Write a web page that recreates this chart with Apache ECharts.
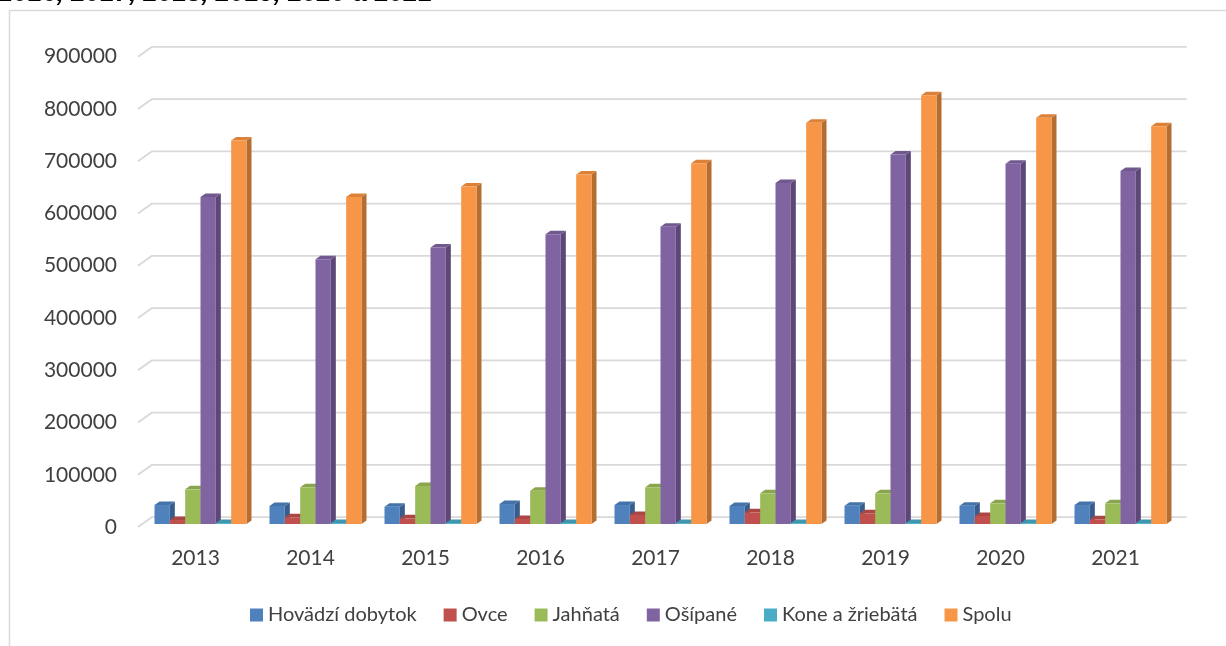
<!DOCTYPE html>
<html>
<head>
<meta charset="utf-8">
<script src="https://cdn.jsdelivr.net/npm/echarts@6/dist/echarts.min.js"></script>
<style>
html,body{margin:0;padding:0;background:#fff;}
#c{width:1226px;height:646px;}
</style>
</head>
<body>
<div id="c"></div>
<script>
const categories = ['2013','2014','2015','2016','2017','2018','2019','2020','2021'];
const seriesNames = ['Hovädzí dobytok','Ovce','Jahňatá','Ošípané','Kone a žriebätá','Spolu'];
const hovadziDobytok = [36300, 34400, 33000, 38200, 36300, 34400, 35000, 35000, 36300];
const ovce = [7600, 12800, 10900, 9600, 17200, 22400, 20500, 15300, 9000];
const jahnata = [66300, 70200, 72700, 63700, 70200, 58700, 58700, 39600, 39600];
const osipane = [625800, 506700, 529000, 554500, 569000, 652600, 706900, 689600, 675500];
const koneZriebata = [1800, 1800, 1800, 1800, 1800, 1800, 1800, 1800, 1800];
const spolu = [734000, 625800, 646000, 669000, 690200, 768000, 820300, 777600, 761000];
const yTicks = [0, 100000, 200000, 300000, 400000, 500000, 600000, 700000, 800000, 900000];
const titleText = '2016, 2017, 2018, 2019, 2020 a 2021';

const seriesValues = [hovadziDobytok, ovce, jahnata, osipane, koneZriebata, spolu];
const frontColors = ['#4F81BD','#C0504D','#9BBB59','#8064A2','#4BACC6','#F79646'];
const sideColors  = ['#385D8A','#8C3836','#71893F','#5C4776','#31859C','#B66D31'];
const topColors   = ['#4473AA','#AA4643','#89A54E','#71588F','#3E97AF','#DC8137'];

const DEPTH_X = 13.7, DEPTH_Y = 9.8;   // floor depth (front edge -> back wall)
const OFF_X = 5, OFF_Y = -3;           // bar front face offset from the front edge
const BAR_DX = 5, BAR_DY = 3.5;        // bar depth

const chart = echarts.init(document.getElementById('c'), null, {renderer: 'canvas'});

function barRenderer(sIdx) {
  return function (params, api) {
    const ci = api.value(0), v = api.value(1);
    const base = api.coord([ci, 0]);
    const top = api.coord([ci, v]);
    const band = api.size([1, 0])[0];
    const w = band * 0.8 / 6;
    const x0 = base[0] - band * 0.4 + sIdx * w + OFF_X;
    const yb = base[1] + OFF_Y;
    const yt = top[1] + OFF_Y;
    return {
      type: 'group',
      children: [
        { type: 'polygon', shape: { points: [[x0 + w, yt], [x0 + w + BAR_DX, yt - BAR_DY], [x0 + w + BAR_DX, yb - BAR_DY], [x0 + w, yb]] },
          style: { fill: sideColors[sIdx] } },
        { type: 'polygon', shape: { points: [[x0, yt], [x0 + BAR_DX, yt - BAR_DY], [x0 + w + BAR_DX, yt - BAR_DY], [x0 + w, yt]] },
          style: { fill: topColors[sIdx] } },
        { type: 'rect', shape: { x: x0, y: yt, width: w, height: yb - yt },
          style: { fill: frontColors[sIdx] } }
      ]
    };
  };
}

const gridSeries = {
  type: 'custom',
  name: '_grid',
  silent: true,
  z: 1,
  data: yTicks.map(v => [0, v]),
  renderItem: function (params, api) {
    const band = api.size([1, 0])[0];
    const p = api.coord([0, api.value(1)]);
    const pr = api.coord([categories.length - 1, api.value(1)]);
    const xl = p[0] - band / 2;
    const xr = pr[0] + band / 2;
    const y = p[1];
    return {
      type: 'polyline',
      shape: { points: [[xl, y], [xl + DEPTH_X, y - DEPTH_Y], [xr + DEPTH_X, y - DEPTH_Y]] },
      style: { stroke: '#D9D9D9', lineWidth: 1.8, fill: null }
    };
  }
};

const barSeries = seriesNames.map((name, i) => ({
  type: 'custom',
  name: name,
  z: 5,
  itemStyle: { color: frontColors[i] },
  data: seriesValues[i].map((v, ci) => [ci, v]),
  renderItem: barRenderer(i)
}));

const option = {
  backgroundColor: '#fff',
  animation: false,
  textStyle: { fontFamily: 'Lato' },
  graphic: [
    { type: 'rect', shape: { x: 9.5, y: 10.5, width: 1400, height: 800 },
      style: { fill: null, stroke: '#D9D9D9', lineWidth: 1.5 }, z: 0 },
    { type: 'text', left: -1, top: -19,
      style: { text: titleText, fontFamily: 'Liberation Sans', fontWeight: 'bold', fontStyle: 'italic', fontSize: 26, fill: '#000' } }
  ],
  legend: {
    data: seriesNames,
    bottom: 16,
    left: 245,
    icon: 'rect',
    itemWidth: 13,
    itemHeight: 13,
    itemGap: 27,
    textStyle: { fontFamily: 'Lato', fontSize: 20, color: '#404040' }
  },
  grid: { left: 138, right: 53, top: 56.7, bottom: 119, containLabel: false },
  xAxis: {
    type: 'category',
    data: categories,
    axisLine: { show: false },
    axisTick: { show: false },
    axisLabel: { margin: 21, fontSize: 21, color: '#404040', fontFamily: 'Lato' }
  },
  yAxis: {
    type: 'value',
    min: 0,
    max: 900000,
    interval: 100000,
    axisLine: { show: false },
    axisTick: { show: false },
    splitLine: { show: false },
    axisLabel: { margin: 21, fontSize: 21, color: '#404040', fontFamily: 'Lato', formatter: v => String(v) }
  },
  series: [gridSeries].concat(barSeries)
};
chart.setOption(option);
</script>
</body>
</html>
